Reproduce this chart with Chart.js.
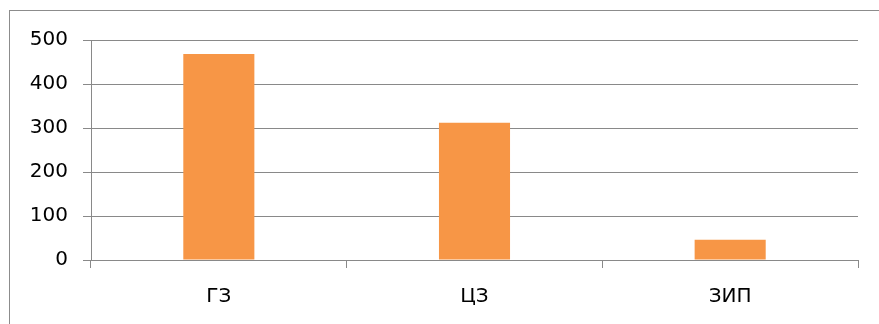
<!DOCTYPE html>
<html>
<head>
<meta charset="utf-8">
<script src="https://cdn.jsdelivr.net/npm/chart.js@4/dist/chart.umd.min.js"></script>
<style>
  html, body { margin: 0; padding: 0; background: #ffffff; }
  #wrap { width: 879px; height: 324px; position: relative; }
</style>
</head>
<body>
<div id="wrap"><canvas id="chart" width="879" height="324"></canvas></div>
<script>
// Categories and values
const categories = ['ГЗ', 'ЦЗ', 'ЗИП'];
const values = [468, 312, 46];
const yTicks = [0, 100, 200, 300, 400, 500];

const GRID = '#898989';
const BAR = '#F79646';

// Frame around the chart block
const framePlugin = {
  id: 'frame',
  beforeDraw(chart) {
    const ctx = chart.ctx;
    ctx.save();
    ctx.strokeStyle = '#8c8c8c';
    ctx.lineWidth = 1;
    ctx.strokeRect(9.5, 10.5, chart.width + 20, chart.height + 20);
    ctx.restore();
  }
};

new Chart(document.getElementById('chart'), {
  type: 'bar',
  data: {
    labels: categories,
    datasets: [{
      data: values,
      backgroundColor: BAR,
      borderWidth: 0,
      categoryPercentage: 1,
      barPercentage: 0.278
    }]
  },
  options: {
    responsive: false,
    animation: false,
    events: [],
    layout: { padding: { left: 0, top: 40, right: 21, bottom: 0 } },
    plugins: {
      legend: { display: false },
      tooltip: { enabled: false }
    },
    scales: {
      x: {
        grid: {
          offset: true,
          drawOnChartArea: false,
          drawTicks: true,
          tickLength: 8,
          color: GRID,
          lineWidth: 1
        },
        border: { display: true, color: GRID, width: 1 },
        ticks: {
          color: '#000000',
          font: { family: 'DejaVu Sans', size: 20 },
          padding: 17,
          maxRotation: 0
        },
        afterFit(scale) { scale.height = 64; }
      },
      y: {
        min: 0,
        max: 500,
        afterBuildTicks(scale) { scale.ticks = yTicks.map(v => ({ value: v })); },
        grid: {
          color: GRID,
          lineWidth: 1,
          drawTicks: true,
          tickLength: 8
        },
        border: { display: true, color: GRID, width: 1 },
        ticks: {
          color: '#000000',
          font: { family: 'DejaVu Sans', size: 20 },
          padding: 15
        },
        afterFit(scale) { scale.width = 91; }
      }
    }
  },
  plugins: [framePlugin]
});
</script>
</body>
</html>
